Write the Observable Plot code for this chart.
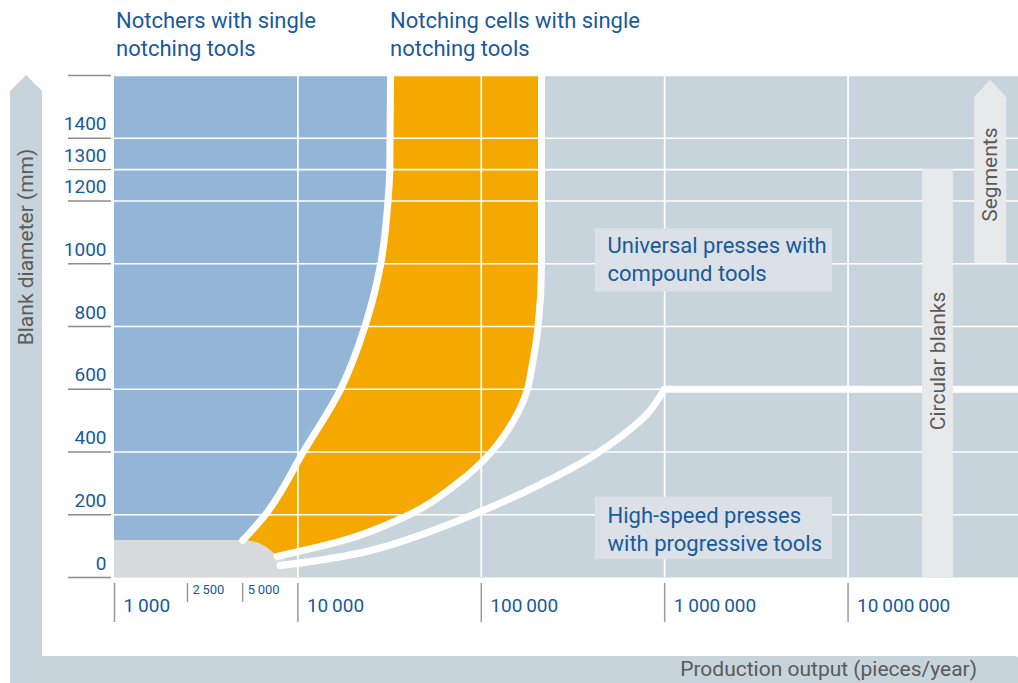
<!DOCTYPE html>
<html>
<head>
<meta charset="utf-8">
<script src="https://cdn.jsdelivr.net/npm/d3@7"></script>
<script src="https://cdn.jsdelivr.net/npm/@observablehq/plot@0.6"></script>
<style>
  body { margin: 0; background: white; }
  #wrap { position: relative; width: 1018px; height: 683px; overflow: hidden; background: white; font-family: Roboto, "Noto Sans", sans-serif; }
  .arrowV { position: absolute; left: 10px; top: 75px; width: 32px; height: 620px; background: #c8d4dc;
            clip-path: polygon(50% 0, 100% 16px, 100% 100%, 0 100%, 0 16px); }
  .arrowH { position: absolute; left: 10px; top: 656px; width: 1024px; height: 32px; background: #c8d4dc;
            clip-path: polygon(0 0, calc(100% - 18px) 0, 100% 50%, calc(100% - 18px) 100%, 0 100%); }
  .ylabel { position: absolute; left: 26px; top: 247px; transform: translate(-50%, -50%) rotate(-90deg);
            white-space: nowrap; font-size: 21px; color: #5a5a5a; }
  .xlabel { position: absolute; right: 41px; top: 669px; transform: translateY(-50%);
            white-space: nowrap; font-size: 21px; color: #5a5a5a; }
  .title { position: absolute; top: 7px; font-size: 22px; line-height: 28px; color: #185a9d; white-space: nowrap; }
  #chart { position: absolute; left: 0; top: 0; }
</style>
</head>
<body>
<div id="wrap">
  <div class="arrowV"></div>
  <div class="arrowH"></div>
  <div id="chart"></div>
  <div class="ylabel">Blank diameter (mm)</div>
  <div class="xlabel">Production output (pieces/year)</div>
  <div class="title" style="left:116px">Notchers with single<br>notching tools</div>
  <div class="title" style="left:390px">Notching cells with single<br>notching tools</div>
</div>
<script>
// ---- axes ----
const xTicks = [1000, 10000, 100000, 1000000, 10000000];
const xTickLabels = ["1\u2009000", "10\u2009000", "100\u2009000", "1\u2009000\u2009000", "10\u2009000\u2009000"];
const xMinorTicks = [2500, 5000];
const xMinorLabels = ["2\u2009500", "5\u2009000"];
const yTicks = [0, 200, 400, 600, 800, 1000, 1200, 1300, 1400];
const yTickLabels = ["0", "200", "400", "600", "800", "1000", "1200", "1300", "1400"];
const yTickLines = [0, 200, 400, 600, 800, 1000, 1200, 1300, 1400, 1600];
const xGrid = [10000, 100000, 1000000, 10000000];
const yGrid = [200, 400, 600, 800, 1000, 1200, 1300, 1400, 1600];

// ---- boundary: notchers | notching cells (ordered by diameter) ----
const notcherEdgeX = [5000, 6640, 10700, 17100, 23200, 28300, 31000, 31700, 32000];
const notcherEdgeY = [118, 200, 400, 600, 800, 1000, 1200, 1300, 1600];

// ---- boundary: notching cells | presses (ordered by diameter) ----
const cellEdgeX = [7700, 17700, 37800, 74000, 112000, 150000, 178000, 189000, 204000, 213000, 213000];
const cellEdgeY = [67, 118, 192, 300, 396, 500, 597, 672, 798, 1000, 1600];

// ---- boundary: universal presses | high-speed presses ----
const pressEdgeX = [8000, 24900, 90800, 210000, 436000, 650000, 836000, 1000000];
const pressEdgeY = [38, 86, 201, 297, 399, 473, 533, 600];
const pressFlatX = [1000000, 85000000];
const pressFlatY = [600, 600];

// ---- small-blank corner (grey) ----
const smallEdgeX = [1000, 5000, 6500, 7700, 10000];
const smallEdgeY = [118, 118, 102, 70, 35];

// ---- side bars ----
const circularBar = {x1: 25500000, x2: 37500000, y1: 0, y2: 1300};
const segmentArrowX = [49000000, 59900000, 73300000];
const segmentArrowY = [1530, 1585, 1530];
const segmentBase = 1000;

// ---- annotations ----
const boxes = [
  {x1: 419000, x2: 8220000, y1: 910, y2: 1111},
  {x1: 419000, x2: 8220000, y1: 57, y2: 256}
];
const boxTexts = [
  {x: 488000, y: 1017, text: "Universal presses with\ncompound tools"},
  {x: 488000, y: 157, text: "High-speed presses\nwith progressive tools"}
];
const sideTexts = [
  {x: 30900000, y: 690, text: "Circular blanks"},
  {x: 59900000, y: 1284, text: "Segments"}
];

const BG = "#c8d4dc", BLUE = "#93b5d8", ORANGE = "#f5a800", GREY = "#d9dadb",
      BOX = "#dbe1e6", BAR = "#e8e9eb", TXT = "#185a9d", SIDE = "#5a5a5a";

const zip = (xs, ys) => xs.map((x, i) => ({x, y: ys[i]}));
const notcherEdge = zip(notcherEdgeX, notcherEdgeY);
const cellEdge = zip(cellEdgeX, cellEdgeY);
const pressEdge = zip(pressEdgeX, pressEdgeY);
const pressFlat = zip(pressFlatX, pressFlatY);
const smallEdge = zip(smallEdgeX, smallEdgeY);
const segArrow = zip(segmentArrowX, segmentArrowY);
const white = {stroke: "white", strokeWidth: 7, strokeLinecap: "round", strokeLinejoin: "round"};

const chart = Plot.plot({
  width: 1018, height: 683,
  marginTop: 75, marginBottom: 106, marginLeft: 114, marginRight: 0,
  x: {type: "log", domain: [1000, 85000000], axis: null},
  y: {domain: [0, 1600], axis: null},
  style: {background: "transparent", fontFamily: "Roboto, 'Noto Sans', sans-serif", overflow: "visible"},
  marks: [
    Plot.frame({fill: BG, stroke: "none"}),
    Plot.areaX(cellEdge, {y: "y", x1: 1000, x2: "x", fill: ORANGE, curve: "monotone-y"}),
    Plot.areaX(notcherEdge, {y: "y", x1: 1000, x2: "x", fill: BLUE, curve: "monotone-y"}),
    Plot.areaY(smallEdge, {x: "x", y1: 0, y2: "y", fill: GREY, curve: "monotone-x"}),
    Plot.ruleX(xGrid, {x: d => d, stroke: "white", strokeWidth: 1.7}),
    Plot.ruleY(yGrid, {y: d => d, stroke: "white", strokeWidth: 1.7}),
    Plot.line(notcherEdge, {x: "x", y: "y", ...white, curve: "monotone-y"}),
    Plot.line(cellEdge, {x: "x", y: "y", ...white, curve: "monotone-y"}),
    Plot.line(pressEdge, {x: "x", y: "y", ...white, curve: "monotone-x"}),
    Plot.line(pressFlat, {x: "x", y: "y", ...white}),
    Plot.rect([circularBar], {x1: "x1", x2: "x2", y1: "y1", y2: "y2", fill: BAR}),
    Plot.areaY(segArrow, {x: "x", y1: segmentBase, y2: "y", fill: BAR}),
    Plot.rect(boxes, {x1: "x1", x2: "x2", y1: "y1", y2: "y2", fill: BOX}),
    Plot.text(boxTexts, {x: "x", y: "y", text: "text", textAnchor: "start", lineHeight: 1.25, fontSize: 22, fill: TXT}),
    Plot.text(sideTexts, {x: "x", y: "y", text: "text", rotate: -90, fontSize: 21, fill: SIDE}),
    // y axis
    Plot.ruleY(yTickLines, {y: d => d, stroke: "#8c8c8c", strokeWidth: 1.3, insetLeft: -46, insetRight: 907}),
    Plot.text(yTicks, {y: d => d, text: yTickLabels, frameAnchor: "left", dx: -8, dy: -14, textAnchor: "end", fontSize: 19, letterSpacing: "-0.6px", fill: TXT}),
    // x axis
    Plot.ruleX(xTicks, {x: d => d, stroke: "#9a9a9a", strokeWidth: 1.5, insetTop: 508, insetBottom: -45}),
    Plot.ruleX(xMinorTicks, {x: d => d, stroke: "#9a9a9a", strokeWidth: 1.5, insetTop: 508, insetBottom: -25}),
    Plot.text(xTicks, {x: d => d, text: xTickLabels, frameAnchor: "bottom", dx: 9, dy: 34, textAnchor: "start", fontSize: 19, letterSpacing: "-0.6px", fill: TXT}),
    Plot.text(xMinorTicks, {x: d => d, text: xMinorLabels, frameAnchor: "bottom", dx: 5, dy: 16, textAnchor: "start", fontSize: 13, letterSpacing: "-0.3px", fill: TXT})
  ]
});
document.getElementById("chart").appendChild(chart);
</script>
</body>
</html>
